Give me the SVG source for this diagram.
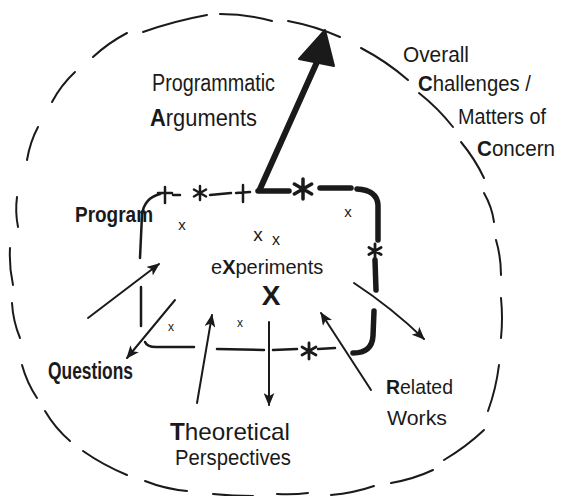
<svg xmlns="http://www.w3.org/2000/svg" xmlns:xlink="http://www.w3.org/1999/xlink" width="562" height="496" viewBox="0 0 562 496">
<style>
  .ln { fill: none; stroke: #1a1a1a; stroke-linecap: round; stroke-linejoin: round; }
  .dash { stroke-width: 2; }
  .thin { stroke-width: 2.5; }
  .thick { stroke-width: 5.5; }
  .arr { stroke-width: 2; marker-end: url(#ah); }
  .lbl { font-family: "Liberation Sans", "Noto Sans", sans-serif; fill: #1a1a1a; }
  .b { font-weight: bold; }
  .mk { font-family: "Liberation Sans", sans-serif; fill: #1a1a1a; text-anchor: middle; }
</style>
<defs>
  <marker id="ah" viewBox="0 0 12 10" refX="11" refY="5" markerWidth="13" markerHeight="11" markerUnits="userSpaceOnUse" orient="auto">
    <path d="M0,0 L12,5 L0,10 L3,5 Z" fill="#1a1a1a"/>
  </marker>
  <g id="star">
    <path d="M0,-1 L0,1 M-0.87,-0.5 L0.87,0.5 M-0.87,0.5 L0.87,-0.5" fill="none" stroke="#1a1a1a" stroke-linecap="round"/>
  </g>
</defs>
<rect width="562" height="496" fill="#ffffff"/>

<g id="outer-boundary" class="ln dash">
  <path d="M93,57 Q108,43 127,33"/>
  <path d="M143,32 Q174,21 207,15"/>
  <path d="M220,14 Q246,14 272,21"/>
  <path d="M288,21 Q315,26 340,37"/>
  <path d="M361,48 Q386,61 408,80"/>
  <path d="M419,93 Q438,108 453,127"/>
  <path d="M461,142 Q475,159 484,178"/>
  <path d="M484,193 Q492,207 494,222"/>
  <path d="M496,240 Q501,257 501,275"/>
  <path d="M501,298 Q503,318 501,338"/>
  <path d="M499,365 Q496,389 488,411"/>
  <path d="M484,430 Q466,447 444,460"/>
  <path d="M433,470 Q414,479 391,483"/>
  <path d="M374,486 Q354,493 331,495"/>
  <path d="M308,493 Q293,495 277,494"/>
  <path d="M253,496 Q233,496 213,494"/>
  <path d="M187,491 Q165,489 145,481"/>
  <path d="M127,475 Q103,465 83,451"/>
  <path d="M70,441 Q55,428 45,411"/>
  <path d="M37,398 Q27,383 22,365"/>
  <path d="M20,338 Q13,321 12,303"/>
  <path d="M13,285 Q9,267 10,248"/>
  <path d="M18,227 Q15,212 17,197"/>
  <path d="M27,160 Q30,142 38,127"/>
  <path d="M52,102 Q61,85 75,72"/>
</g>

<g id="program-box">
  <g class="ln thin">
    <path d="M140,258 L142,215 Q144,198 160,194"/>
    <path d="M141,287 L141,326"/>
    <path d="M145,342 Q147,347 156,347 L194,347"/>
    <path d="M217,349 L264,350"/>
    <path d="M273,350 L297,349"/>
    <path d="M318,349 L335,348"/>
    <path d="M165,187 L165,203 M158,193 L172,193"/>
    <path d="M173,195 L180,195"/>
    <path d="M210,195 L231,193"/>
    <path d="M243,185 L243,202 M236,193 L250,192"/>
  </g>
  <g class="ln thick">
    <path d="M258,191 L289,191"/>
    <path d="M320,188 L351,188"/>
    <path d="M357,189 Q377,190 378,205 L378,240"/>
    <path d="M375,260 L376,290"/>
    <path d="M374,311 L373,336 Q372,353 353,353"/>
  </g>
  <use xlink:href="#star" transform="translate(200,193) scale(7)" stroke-width="0.35"/>
  <use xlink:href="#star" transform="translate(303,189) scale(10)" stroke-width="0.35"/>
  <use xlink:href="#star" transform="translate(375,251) scale(7)" stroke-width="0.4"/>
  <use xlink:href="#star" transform="translate(309,351) scale(8)" stroke-width="0.35"/>
  <text class="mk" x="182" y="230" font-size="15">x</text>
  <text class="mk" x="348" y="217" font-size="15">x</text>
  <text class="mk" x="171" y="331" font-size="12">x</text>
  <text class="mk" x="240" y="327" font-size="12">x</text>
</g>

<g id="node-experiments">
  <text class="mk" x="258" y="241" font-size="19">x</text>
  <text class="mk" x="276" y="245" font-size="16">x</text>
  <text class="lbl" x="211" y="274" font-size="20">e<tspan class="b">X</tspan>periments</text>
  <text class="mk b" x="271" y="305" font-size="28">X</text>
</g>

<g id="node-program">
  <text class="lbl b" x="75" y="222" font-size="22" textLength="78" lengthAdjust="spacingAndGlyphs">Program</text>
</g>

<g id="node-programmatic-arguments">
  <text class="lbl" x="152" y="91" font-size="23" textLength="123" lengthAdjust="spacingAndGlyphs">Programmatic</text>
  <text class="lbl" x="150" y="126" font-size="24" textLength="107" lengthAdjust="spacingAndGlyphs"><tspan class="b">A</tspan>rguments</text>
</g>

<g id="node-overall-challenges">
  <text class="lbl" x="403" y="62" font-size="22" textLength="66" lengthAdjust="spacingAndGlyphs">Overall</text>
  <text class="lbl" x="418" y="91" font-size="22" textLength="113" lengthAdjust="spacingAndGlyphs"><tspan class="b">C</tspan>hallenges /</text>
  <text class="lbl" x="458" y="124" font-size="22" textLength="88" lengthAdjust="spacingAndGlyphs">Matters of</text>
  <text class="lbl" x="477" y="156" font-size="22" textLength="78" lengthAdjust="spacingAndGlyphs"><tspan class="b">C</tspan>oncern</text>
</g>

<g id="node-questions">
  <text class="lbl b" x="48" y="379" font-size="23" textLength="85" lengthAdjust="spacingAndGlyphs">Questions</text>
</g>

<g id="node-theoretical-perspectives">
  <text class="lbl" x="170" y="440" font-size="24" textLength="120" lengthAdjust="spacingAndGlyphs"><tspan class="b">T</tspan>heoretical</text>
  <text class="lbl" x="175" y="465" font-size="22" textLength="116" lengthAdjust="spacingAndGlyphs">Perspectives</text>
</g>

<g id="node-related-works">
  <text class="lbl" x="386" y="394" font-size="21" textLength="67" lengthAdjust="spacingAndGlyphs"><tspan class="b">R</tspan>elated</text>
  <text class="lbl" x="387" y="425" font-size="21" textLength="60" lengthAdjust="spacingAndGlyphs">Works</text>
</g>

<g id="connectors">
  <path class="ln" d="M260,189 L317,62" stroke-width="6"/>
  <path d="M325,30 L299,59 L334,66 Z" fill="#1a1a1a" stroke="#1a1a1a" stroke-width="2" stroke-linejoin="round"/>
  <path class="ln arr" d="M88,318 L159,264"/>
  <path class="ln arr" d="M175,300 L127,358"/>
  <path class="ln arr" d="M197,403 L212,315"/>
  <path class="ln arr" d="M269,322 L269,405"/>
  <path class="ln arr" d="M371,390 L321,313"/>
  <path class="ln arr" d="M354,283 Q392,308 424,339"/>
</g>
</svg>
